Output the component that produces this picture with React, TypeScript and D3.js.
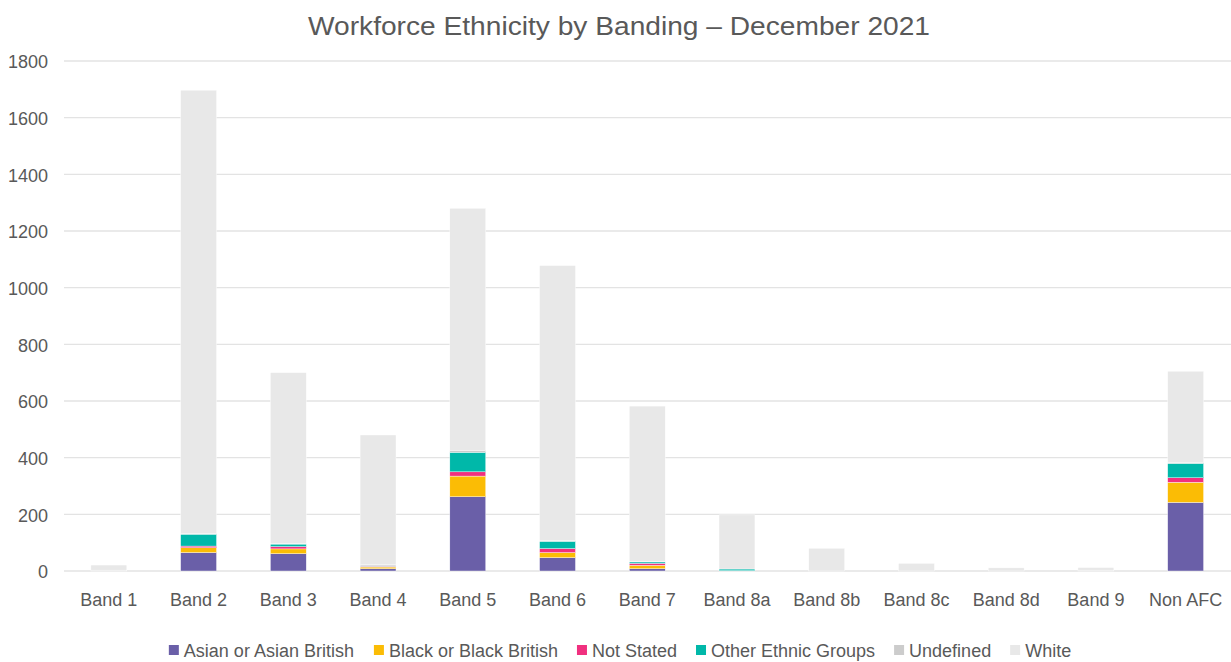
import React from "react";
import * as d3 from "d3";

const categories = ["Band 1","Band 2","Band 3","Band 4","Band 5","Band 6","Band 7","Band 8a","Band 8b","Band 8c","Band 8d","Band 9","Non AFC"];
const seriesNames = ["Asian or Asian British","Black or Black British","Not Stated","Other Ethnic Groups","Undefined","White"];
const asian =     [0, 65, 61, 8, 262, 47, 8, 1, 0, 0, 0, 0, 242];
const black =     [0, 17, 17, 6, 73, 18, 12, 0, 0, 0, 0, 0, 71];
const notStated = [0, 6, 8, 3, 15, 14, 7, 0, 0, 0, 0, 0, 16];
const other =     [0, 42, 9, 1, 69, 26, 5, 6, 0, 0, 0, 0, 51];
const undefinedV =[3, 2, 2, 5, 7, 2, 2, 0, 0, 0, 0, 3, 2];
const white =     [18, 1565, 603, 457, 854, 971, 548, 191, 80, 27, 11, 9, 323];
const yTicks = [0, 200, 400, 600, 800, 1000, 1200, 1400, 1600, 1800];
const colors = ["#6a5fa8", "#fbbc05", "#f0307f", "#00b8a9", "#cccccc", "#e8e8e8"];

const W = 1231, H = 662;
const margin = { left: 64, right: 0.5, top: 61, bottom: 571 };
const FONT = "Liberation Sans, Arial, sans-serif";
const TXT = "#595959";

function measure(text: string, size: number) {
  const c = document.createElement("canvas").getContext("2d");
  if (!c) return text.length * size * 0.5;
  c.font = `${size}px ${FONT}`;
  return c.measureText(text).width;
}

export default function App() {
  const allSeries = [asian, black, notStated, other, undefinedV, white];
  const rows = categories.map((c, i) => {
    const r: any = { cat: c };
    seriesNames.forEach((s, k) => (r[s] = allSeries[k][i]));
    return r;
  });
  const stacked = d3.stack<any>().keys(seriesNames)(rows);
  const x = d3.scaleBand().domain(categories).range([margin.left, W - margin.right]).paddingInner(0.6).paddingOuter(0.3);
  const y = d3.scaleLinear().domain([0, 1800]).range([margin.bottom, margin.top]);

  const legSize = 18;
  const sq = 10;
  const txtGap = 5;
  const items = seriesNames.map((s) => ({ s, w: sq + txtGap + measure(s, legSize) }));
  const gap = 19;
  const totalW = d3.sum(items, (d) => d.w) + gap * (items.length - 1);
  let lx = 620 - totalW / 2;
  const legendPos = items.map((d) => {
    const p = lx;
    lx += d.w + gap;
    return p;
  });

  return (
    <svg width={W} height={H} style={{ position: "absolute", left: 0, top: 0, background: "#fff" }} fontFamily={FONT}>
      <text x={308} y={35} fontSize={26} fill={TXT} textLength={622} lengthAdjust="spacingAndGlyphs">
        Workforce Ethnicity by Banding – December 2021
      </text>
      {yTicks.map((t) => (
        <g key={t}>
          <line x1={margin.left} x2={W} y1={y(t)} y2={y(t)} stroke="#e3e3e3" strokeWidth={1.3} />
          <text x={48} y={y(t) + 1} dy="0.35em" textAnchor="end" fontSize={18} fill={TXT}>{t}</text>
        </g>
      ))}
      {stacked.map((layer, k) => (
        <g key={layer.key} fill={colors[k]}>
          {layer.map((d, i) => {
            const h = y(d[0]) - y(d[1]);
            if (h <= 0) return null;
            return (
              <rect key={i} x={x(categories[i])} width={x.bandwidth()} y={y(d[1])} height={h}
                stroke="#ffffff" strokeWidth={0.4} />
            );
          })}
        </g>
      ))}
      {categories.map((c) => (
        <text key={c} x={(x(c) as number) + x.bandwidth() / 2} y={606} textAnchor="middle" fontSize={18} fill={TXT}>{c}</text>
      ))}
      {items.map((d, i) => (
        <g key={d.s} transform={`translate(${legendPos[i]},650)`}>
          <rect x={0} y={-5} width={sq} height={sq} fill={colors[i]} />
          <text x={sq + txtGap} y={6.5} fontSize={legSize} fill={TXT}>{d.s}</text>
        </g>
      ))}
    </svg>
  );
}
